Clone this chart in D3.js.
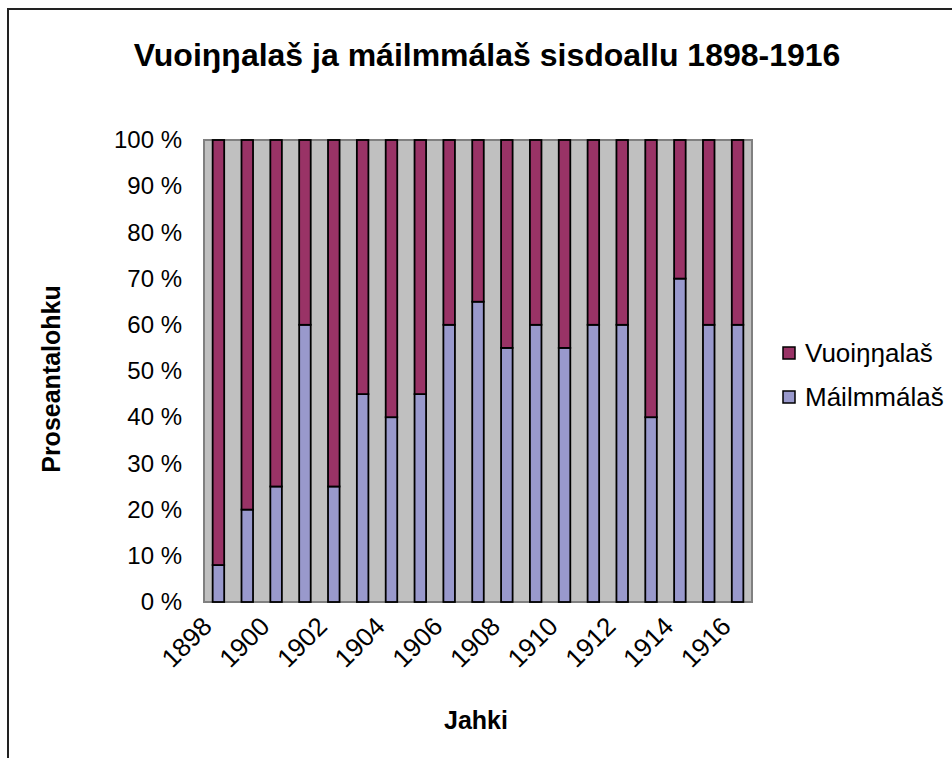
<!DOCTYPE html>
<html>
<head>
<meta charset="utf-8">
<script src="https://cdn.jsdelivr.net/npm/d3@7"></script>
<style>
  body { margin: 0; background: #fff; }
  text { font-family: Arial, "Liberation Sans", sans-serif; fill: #000; }
</style>
</head>
<body>
<div id="chart"></div>
<script>
// chart data
const years = [1898, 1899, 1900, 1901, 1902, 1903, 1904, 1905, 1906, 1907,
  1908, 1909, 1910, 1911, 1912, 1913, 1914, 1915, 1916];
const mailmmalas = [8, 20, 25, 60, 25, 45, 40, 45, 60, 65,
  55, 60, 55, 60, 60, 40, 70, 60, 60];
const vuoinnalas = [92, 80, 75, 40, 75, 55, 60, 55, 40, 35,
  45, 40, 45, 40, 40, 60, 30, 40, 40];
const seriesNames = ['Vuoiŋŋalaš', 'Máilmmálaš'];
const seriesColors = ['#993366', '#9999cc'];
const yTicks = [0, 10, 20, 30, 40, 50, 60, 70, 80, 90, 100];
const xTickYears = [1898, 1900, 1902, 1904, 1906, 1908, 1910, 1912, 1914, 1916];

const width = 952;
const height = 758;
const plot = { left: 204, top: 140, right: 752, bottom: 602 };

const svg = d3.select('#chart')
  .append('svg')
  .attr('width', width)
  .attr('height', height);

// outer chart frame
svg.append('rect')
  .attr('x', 8)
  .attr('y', 9)
  .attr('width', width + 20)
  .attr('height', height + 20)
  .attr('fill', '#fff')
  .attr('stroke', '#222')
  .attr('stroke-width', 2);

svg.append('text')
  .attr('x', 487)
  .attr('y', 66)
  .attr('text-anchor', 'middle')
  .attr('font-size', 32)
  .attr('font-weight', 'bold')
  .text('Vuoiŋŋalaš ja máilmmálaš sisdoallu 1898-1916');

const x = d3.scaleBand()
  .domain(years)
  .range([plot.left, plot.right])
  .paddingInner(0.6)
  .paddingOuter(0.3);

const y = d3.scaleLinear()
  .domain([0, 100])
  .range([plot.bottom, plot.top]);

// plot area
svg.append('rect')
  .attr('x', plot.left)
  .attr('y', plot.top)
  .attr('width', plot.right - plot.left)
  .attr('height', plot.bottom - plot.top)
  .attr('fill', '#c0c0c0')
  .attr('stroke', '#808080')
  .attr('stroke-width', 2);

// stacked bars
const rows = years.map((year, i) => ({
  year,
  'Máilmmálaš': mailmmalas[i],
  'Vuoiŋŋalaš': vuoinnalas[i],
}));
const stack = d3.stack().keys(['Máilmmálaš', 'Vuoiŋŋalaš']);
const layers = stack(rows);
const color = d3.scaleOrdinal().domain(seriesNames).range(seriesColors);

svg.append('g')
  .selectAll('g')
  .data(layers)
  .join('g')
  .attr('fill', d => color(d.key))
  .selectAll('rect')
  .data(d => d)
  .join('rect')
  .attr('x', d => x(d.data.year))
  .attr('y', d => y(d[1]))
  .attr('width', x.bandwidth())
  .attr('height', d => y(d[0]) - y(d[1]))
  .attr('stroke', '#000')
  .attr('stroke-width', 1.8);

// y axis
const yAxis = svg.append('g')
  .attr('transform', `translate(${plot.left}, 0)`)
  .call(d3.axisLeft(y).tickValues(yTicks).tickSize(0).tickPadding(22)
    .tickFormat(d => `${d} %`));
yAxis.select('.domain').remove();
yAxis.selectAll('text')
  .attr('font-size', 24)
  .attr('font-family', 'Arial, "Liberation Sans", sans-serif');

// x axis, every second year
const xAxis = svg.append('g')
  .attr('transform', `translate(0, ${plot.bottom})`)
  .call(d3.axisBottom(x).tickValues(xTickYears).tickSize(0));
xAxis.select('.domain').remove();
xAxis.selectAll('text')
  .attr('font-size', 26)
  .attr('font-family', 'Arial, "Liberation Sans", sans-serif')
  .attr('text-anchor', 'end')
  .attr('dy', null)
  .attr('y', 0)
  .attr('transform', 'translate(-5, 26) rotate(-45)');

// axis titles
svg.append('text')
  .attr('transform', 'translate(60, 379) rotate(-90)')
  .attr('text-anchor', 'middle')
  .attr('font-size', 25)
  .attr('font-weight', 'bold')
  .text('Proseantalohku');

svg.append('text')
  .attr('x', 476)
  .attr('y', 729)
  .attr('text-anchor', 'middle')
  .attr('font-size', 25)
  .attr('font-weight', 'bold')
  .text('Jahki');

// legend
const legend = svg.append('g')
  .selectAll('g')
  .data(seriesNames)
  .join('g')
  .attr('transform', (d, i) => `translate(783, ${347 + i * 44})`);

legend.append('rect')
  .attr('width', 12)
  .attr('height', 12)
  .attr('fill', d => color(d))
  .attr('stroke', '#000')
  .attr('stroke-width', 1.5);

legend.append('text')
  .attr('x', 22)
  .attr('y', 6)
  .attr('dy', '0.35em')
  .attr('font-size', 26)
  .text(d => d);
</script>
</body>
</html>
